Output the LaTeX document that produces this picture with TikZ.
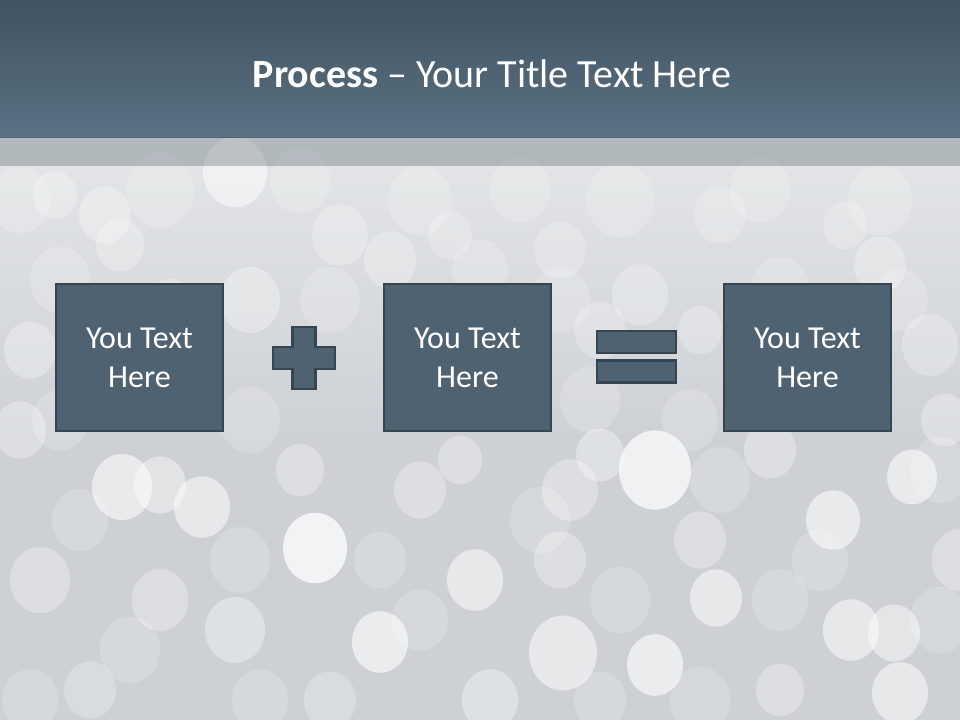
\documentclass[tikz,border=0pt]{standalone}
\usepackage{fontspec}
\setmainfont{Carlito}
\begin{document}
\begin{tikzpicture}[x=1pt,y=-1pt,
  box/.style={rectangle, draw=boxline, fill=boxfill, line width=2.4pt, minimum width=167pt, minimum height=147pt, text=white, font=\fontsize{32}{39}\selectfont, align=center, inner sep=0pt},
  sign/.style={draw=boxline, fill=boxfill, line width=2.4pt},
  bokeh/.style={fill=white}]
\definecolor{bgbase}{HTML}{CDD1D5}
\definecolor{bglight}{HTML}{E4E6E8}
\definecolor{boxfill}{HTML}{4E6272}
\definecolor{boxline}{HTML}{36454F}
\definecolor{titletop}{HTML}{415260}
\definecolor{titlebot}{HTML}{5B7282}
\useasboundingbox (0,0) rectangle (960,720);
% background
\fill[bgbase] (0,0) rectangle (960,720);
\shade[top color=bglight, bottom color=bgbase] (0,137) rectangle (960,440);
% faint texture
\foreach \x/\y/\r in {
  20/200/30, 160/190/34, 300/180/30, 420/200/32, 520/190/30, 620/200/34, 760/190/30,
  880/200/32, 60/280/30, 330/300/30, 480/270/28, 560/300/30, 780/290/30, 900/300/28,
  60/420/28, 250/420/30, 590/400/30, 690/420/28, 940/470/30, 240/560/30, 540/520/30,
  720/480/30, 80/520/28, 420/620/28, 620/600/30, 780/600/28, 940/620/30, 130/650/30,
  260/700/28, 700/700/30, 820/560/28, 380/560/26, 30/700/28, 600/700/26}
  {\fill[bokeh, opacity=0.18] (\x,\y) ellipse[x radius=\r pt, y radius=1.1*\r pt];}
% bokeh highlights
\foreach \x/\y/\r/\o in {
  235/172/32/0.5, 105/215/26/0.3, 55/195/22/0.25, 340/235/28/0.25, 120/245/24/0.25,
  250/300/30/0.3, 30/350/26/0.3, 390/260/26/0.25, 640/295/28/0.25, 880/265/26/0.25,
  930/345/28/0.25, 845/225/22/0.2, 720/215/26/0.2, 560/250/26/0.2, 450/235/22/0.2,
  170/305/24/0.25, 600/330/26/0.25, 700/330/22/0.25, 945/420/24/0.3, 20/430/26/0.3,
  315/548/32/0.75, 655/470/36/0.7, 833/520/27/0.55, 912/477/25/0.55, 122/487/30/0.55,
  202/507/28/0.5, 160/485/26/0.4, 475/580/28/0.5, 380/642/28/0.6, 563/653/34/0.5,
  655/665/28/0.6, 851/630/28/0.5, 894/633/26/0.45, 900/693/28/0.5, 716/598/26/0.5,
  490/700/28/0.35, 570/490/28/0.3, 420/490/26/0.3, 40/580/30/0.3, 160/600/28/0.3,
  235/630/30/0.35, 700/540/26/0.3, 770/450/26/0.3, 600/455/24/0.35, 460/460/22/0.3,
  780/690/24/0.3, 960/560/28/0.3, 330/700/26/0.25, 90/690/26/0.25, 560/560/26/0.3,
  300/470/24/0.3}
  {\fill[bokeh, opacity=\o] (\x,\y) ellipse[x radius=\r pt, y radius=1.1*\r pt];}
% title bar
\shade[top color=titletop, bottom color=titlebot] (0,0) rectangle (960,137);
\fill[titlebot!70!black, opacity=0.3] (0,137) rectangle (960,166);
\node[text=white, font=\fontsize{40}{48}\selectfont, anchor=base] (title) at (492,87) {\textbf{Process} – Your Title Text Here};
% boxes
\node[box] (b1) at (139.5,357.5) {You Text\\Here};
\node[box] (b2) at (467.5,357.5) {You Text\\Here};
\node[box] (b3) at (807.5,357.5) {You Text\\Here};
% plus
\draw[sign] (292.5,327) -- (315.5,327) -- (315.5,347) -- (335,347) -- (335,369) -- (315.5,369) -- (315.5,389) -- (292.5,389) -- (292.5,369) -- (273,369) -- (273,347) -- (292.5,347) -- cycle;
% equals
\draw[sign] (597,331) rectangle (676,353);
\draw[sign] (597,360.5) rectangle (676,382.5);
\end{tikzpicture}
\end{document}
